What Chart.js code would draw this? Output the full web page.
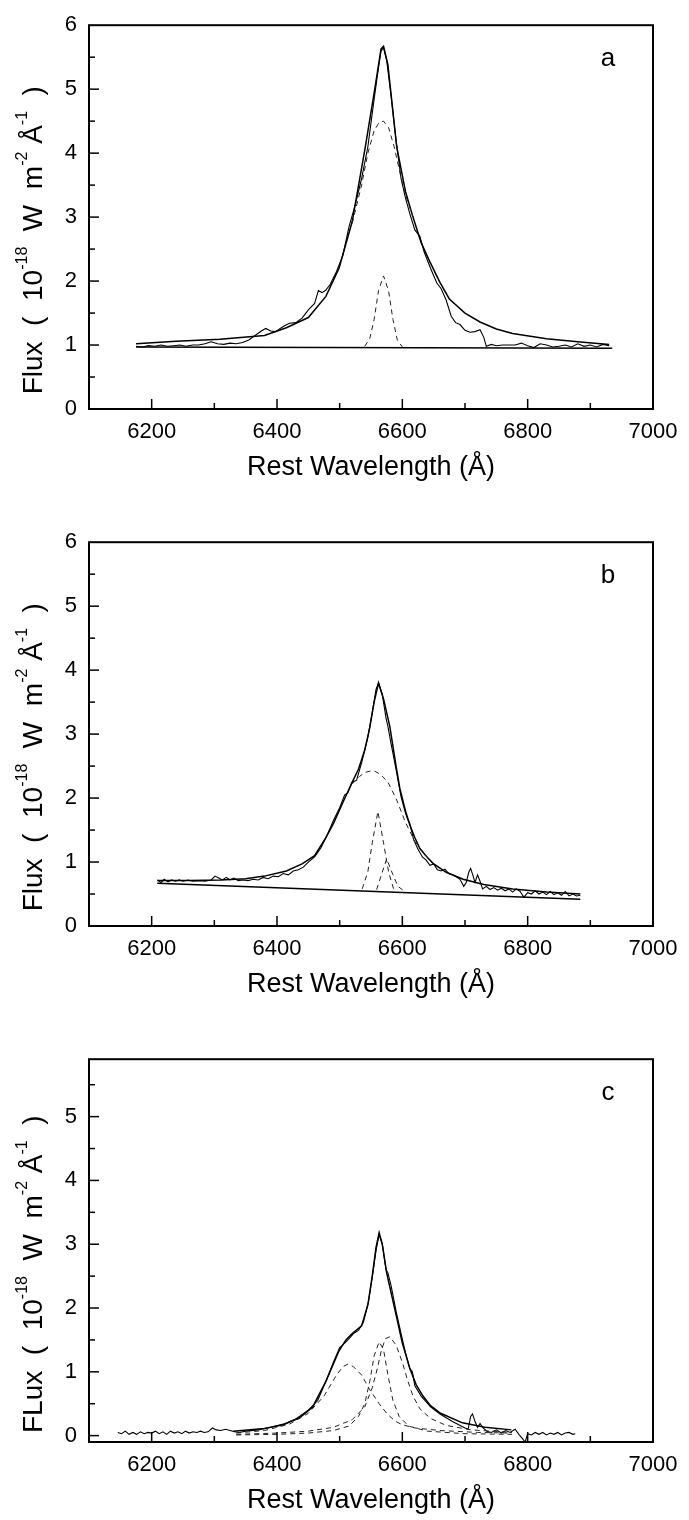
<!DOCTYPE html>
<html>
<head>
<meta charset="utf-8">
<script src="https://cdn.jsdelivr.net/npm/chart.js@4.4.1/dist/chart.umd.min.js"></script>
<style>
  body { margin: 0; background: #fff; width: 689px; height: 1520px; overflow: hidden; position: relative; }
  .panel { position: absolute; left: 0; width: 689px; }
</style>
</head>
<body>
<div class="panel" style="top:0;height:517px"><canvas id="panelA"></canvas></div>
<div class="panel" style="top:517px;height:517px"><canvas id="panelB"></canvas></div>
<div class="panel" style="top:1034px;height:486px"><canvas id="panelC"></canvas></div>
<script>
// --- tick labels ---
const xTickLabels = [6200, 6400, 6600, 6800, 7000];
const yTickLabelsAB = [0, 1, 2, 3, 4, 5, 6];
const yTickLabelsC = [0, 1, 2, 3, 4, 5];

// --- panel a: [wavelength (Å), flux] ---
const aObserved = [
  [6175,0.98],[6185,0.97],[6195,0.99],[6205,0.98],[6215,1.0],[6225,0.98],[6235,0.99],[6245,1.0],
  [6255,0.98],[6265,1.0],[6275,1.0],[6285,1.02],[6295,1.05],[6305,1.02],[6315,1.01],[6325,1.03],
  [6335,1.02],[6345,1.04],[6355,1.08],[6365,1.15],[6375,1.22],[6382,1.26],[6390,1.22],[6398,1.21],
  [6405,1.26],[6412,1.3],[6420,1.34],[6430,1.35],[6440,1.42],[6450,1.55],[6460,1.65],[6466,1.85],
  [6472,1.82],[6478,1.86],[6485,1.95],[6495,2.15],[6505,2.4],[6515,2.85],[6525,3.2],[6535,3.6],
  [6545,4.1],[6553,4.7],[6560,5.2],[6566,5.6],[6570,5.65],[6575,5.45],[6582,4.9],[6590,4.2],
  [6598,3.6],[6605,3.3],[6612,3.05],[6620,2.8],[6628,2.7],[6635,2.45],[6645,2.2],[6655,1.97],
  [6662,1.88],[6670,1.7],[6678,1.45],[6685,1.35],[6692,1.32],[6700,1.23],[6708,1.2],[6716,1.21],
  [6724,1.24],[6730,1.12],[6734,0.98],[6742,1.01],[6750,0.99],[6760,1.0],[6770,1.0],[6780,1.0],
  [6790,1.03],[6800,0.99],[6810,0.96],[6820,1.02],[6830,1.0],[6840,0.97],[6850,0.98],[6860,1.0],
  [6870,0.97],[6880,1.02],[6890,0.98],[6900,1.0],[6910,0.97],[6920,1.01],[6930,0.99]
];
const aFit = [
  [6175,1.02],[6239,1.06],[6309,1.09],[6380,1.15],[6415,1.27],[6450,1.43],[6478,1.76],[6499,2.2],
  [6520,2.93],[6541,4.1],[6556,5.0],[6566,5.63],[6570,5.67],[6577,5.38],[6591,4.1],[6605,3.4],
  [6617,3.0],[6630,2.6],[6644,2.3],[6660,1.98],[6675,1.72],[6700,1.5],[6724,1.36],[6750,1.25],
  [6776,1.18],[6830,1.1],[6880,1.05],[6930,1.01]
];
const aBroad = [
  [6520,2.9],[6535,3.5],[6545,4.0],[6555,4.35],[6563,4.48],[6570,4.5],[6578,4.4],[6587,4.1],
  [6596,3.7],[6605,3.35],[6617,3.0]
];
const aNarrow = [
  [6540,0.98],[6548,1.1],[6555,1.4],[6562,1.85],[6570,2.08],[6578,1.85],[6585,1.4],[6592,1.08],[6600,0.97]
];
const aContinuum = [[6175,0.97],[6935,0.95]];

// --- panel b ---
const bObserved = [
  [6209,0.72],[6215,0.68],[6220,0.73],[6226,0.69],[6232,0.72],[6238,0.7],[6244,0.72],[6250,0.7],
  [6258,0.72],[6266,0.7],[6275,0.71],[6285,0.7],[6295,0.72],[6301,0.78],[6307,0.75],[6313,0.72],
  [6319,0.76],[6325,0.72],[6331,0.75],[6338,0.71],[6346,0.72],[6354,0.71],[6362,0.73],[6370,0.72],
  [6378,0.76],[6386,0.74],[6394,0.78],[6402,0.77],[6410,0.82],[6418,0.8],[6426,0.86],[6434,0.88],
  [6442,0.92],[6450,1.0],[6460,1.08],[6470,1.22],[6480,1.42],[6490,1.65],[6500,1.85],[6508,2.05],
  [6513,2.08],[6520,2.25],[6527,2.28],[6535,2.55],[6545,2.95],[6553,3.4],[6558,3.7],[6562,3.8],
  [6568,3.62],[6574,3.25],[6577,3.12],[6582,2.85],[6590,2.45],[6598,2.02],[6604,1.8],[6608,1.68],
  [6612,1.6],[6618,1.35],[6625,1.2],[6632,1.08],[6638,1.03],[6644,0.95],[6650,0.97],[6656,0.88],
  [6662,0.86],[6668,0.89],[6674,0.82],[6680,0.8],[6686,0.77],[6692,0.73],[6698,0.62],[6702,0.68],
  [6706,0.84],[6709,0.9],[6713,0.78],[6716,0.68],[6720,0.8],[6724,0.7],[6728,0.58],[6734,0.62],
  [6740,0.57],[6746,0.6],[6752,0.56],[6758,0.59],[6764,0.55],[6770,0.58],[6776,0.53],[6782,0.58],
  [6788,0.54],[6794,0.45],[6800,0.52],[6806,0.5],[6812,0.55],[6818,0.5],[6824,0.53],[6830,0.49],
  [6836,0.54],[6842,0.49],[6848,0.52],[6854,0.48],[6860,0.54],[6866,0.47],[6872,0.5],[6878,0.47],[6884,0.48]
];
const bFit = [
  [6209,0.71],[6260,0.71],[6310,0.72],[6350,0.74],[6380,0.78],[6415,0.86],[6440,0.97],[6460,1.1],
  [6478,1.38],[6490,1.6],[6506,1.95],[6520,2.25],[6530,2.45],[6540,2.75],[6548,3.1],[6555,3.5],
  [6562,3.8],[6570,3.55],[6580,3.12],[6590,2.5],[6596,2.15],[6605,1.8],[6612,1.58],[6620,1.38],
  [6628,1.21],[6640,1.07],[6649,0.98],[6670,0.84],[6697,0.73],[6730,0.65],[6776,0.58],[6830,0.53],[6884,0.5]
];
const bBroad = [
  [6520,2.22],[6532,2.34],[6540,2.4],[6548,2.42],[6556,2.42],[6565,2.37],[6577,2.25],
  [6591,1.97],[6605,1.62],[6620,1.32],[6640,1.07]
];
const bNarrow1 = [
  [6536,0.58],[6545,0.85],[6552,1.3],[6561,1.79],[6570,1.3],[6578,0.85],[6586,0.58]
];
const bNarrow2 = [
  [6559,0.57],[6565,0.75],[6575,1.05],[6585,0.8],[6593,0.62],[6601,0.56]
];
const bContinuum = [[6209,0.67],[6884,0.42]];

// --- panel c ---
const cObserved = [
  [6146,0.05],[6152,0.03],[6158,0.07],[6164,0.02],[6170,0.05],[6176,0.02],[6182,0.06],[6188,0.03],
  [6194,0.05],[6200,0.04],[6206,0.07],[6212,0.03],[6218,0.06],[6224,0.02],[6230,0.07],[6236,0.04],
  [6242,0.06],[6248,0.03],[6254,0.07],[6260,0.04],[6266,0.06],[6272,0.05],[6278,0.07],[6284,0.05],
  [6290,0.06],[6297,0.12],[6303,0.09],[6310,0.08],[6318,0.1],[6325,0.08],[6332,0.06],[6340,0.05],
  [6350,0.07],[6370,0.09],[6390,0.13],[6410,0.18],[6430,0.26],[6450,0.4],[6465,0.55],[6478,0.85],
  [6490,1.15],[6500,1.38],[6508,1.45],[6515,1.52],[6522,1.6],[6530,1.65],[6538,1.78],[6546,2.1],
  [6553,2.55],[6558,2.9],[6563,3.15],[6568,3.0],[6574,2.6],[6577,2.55],[6582,2.35],[6590,1.95],
  [6598,1.6],[6605,1.3],[6612,1.05],[6616,1.0],[6620,0.78],[6630,0.62],[6645,0.45],[6660,0.34],
  [6680,0.22],[6700,0.12],[6705,0.1],[6709,0.3],[6712,0.34],[6716,0.22],[6720,0.13],[6724,0.19],
  [6728,0.13],[6735,0.07],[6742,0.05],[6750,0.09],[6758,0.04],[6765,0.08],[6772,0.05],[6780,0.1],
  [6786,0.02],[6792,-0.05],[6796,-0.1],[6800,0.03],[6806,0.01],[6812,0.05],[6818,0.02],[6824,0.05],
  [6830,0.01],[6836,0.04],[6842,0.02],[6848,0.05],[6854,0.01],[6860,0.04],[6866,0.05],[6872,0.02],[6876,0.03]
];
const cFit = [
  [6330,0.07],[6380,0.11],[6410,0.17],[6436,0.28],[6457,0.45],[6478,0.85],[6499,1.33],[6510,1.5],
  [6520,1.6],[6535,1.72],[6545,2.05],[6552,2.5],[6558,2.95],[6563,3.18],[6568,3.0],[6575,2.55],
  [6583,2.2],[6591,1.85],[6600,1.45],[6612,1.05],[6622,0.8],[6633,0.62],[6645,0.47],[6661,0.35],
  [6696,0.2],[6732,0.13],[6774,0.09]
];
const cBlue = [
  [6335,0.04],[6380,0.08],[6420,0.18],[6450,0.35],[6475,0.62],[6495,0.95],[6505,1.08],[6513,1.12],
  [6522,1.08],[6535,0.95],[6548,0.72],[6563,0.5],[6575,0.35],[6588,0.23],[6600,0.17],[6620,0.12],
  [6660,0.08],[6720,0.05],[6775,0.04]
];
const cNarrow = [
  [6335,0.01],[6400,0.02],[6450,0.04],[6490,0.08],[6515,0.15],[6530,0.3],[6540,0.5],[6548,0.85],
  [6555,1.25],[6563,1.47],[6570,1.35],[6577,0.95],[6585,0.55],[6595,0.3],[6610,0.15],[6640,0.07],
  [6700,0.03],[6775,0.02]
];
const cRed = [
  [6335,0.02],[6400,0.04],[6450,0.07],[6490,0.13],[6520,0.25],[6540,0.45],[6552,0.75],[6560,1.05],
  [6567,1.35],[6573,1.52],[6580,1.55],[6590,1.42],[6600,1.15],[6608,0.88],[6617,0.62],[6628,0.42],
  [6645,0.27],[6670,0.16],[6710,0.09],[6775,0.05]
];

const FONT = 'Arial, "Liberation Sans", sans-serif';

function pts(arr) { return arr.map(p => ({ x: p[0], y: p[1] })); }
function solid(arr, w) {
  return { data: pts(arr), borderColor: '#000', borderWidth: w || 1.1, pointRadius: 0, showLine: true, tension: 0 };
}
function dashed(arr) {
  return { data: pts(arr), borderColor: '#222', borderWidth: 1, borderDash: [5, 4], pointRadius: 0, showLine: true, tension: 0 };
}

// frame, inward ticks and rich text drawn on top of the chart
const decorPlugin = {
  id: 'decor',
  afterDraw(chart, args, o) {
    const { ctx, chartArea: a, scales } = chart;
    ctx.save();
    ctx.strokeStyle = '#000';
    ctx.lineWidth = 2;
    ctx.strokeRect(a.left, a.top, a.right - a.left, a.bottom - a.top);

    // x ticks every 100 Å, longer where labelled
    ctx.lineWidth = 1.5;
    for (let v = 6200; v < 7000; v += 100) {
      const px = scales.x.getPixelForValue(v);
      const len = xTickLabels.includes(v) ? 10 : 6;
      ctx.beginPath(); ctx.moveTo(px, a.bottom); ctx.lineTo(px, a.bottom - len); ctx.stroke();
    }
    // y ticks every 0.5
    for (let v = Math.ceil(scales.y.min * 2) / 2; v < scales.y.max; v += 0.5) {
      const py = scales.y.getPixelForValue(v);
      if (Math.abs(py - a.top) < 2 || Math.abs(py - a.bottom) < 2) continue;
      const len = Number.isInteger(v) ? 10 : 6;
      ctx.beginPath(); ctx.moveTo(a.left, py); ctx.lineTo(a.left + len, py); ctx.stroke();
    }

    ctx.fillStyle = '#000';
    // panel letter
    ctx.font = '26px ' + FONT;
    ctx.textAlign = 'center'; ctx.textBaseline = 'middle';
    ctx.fillText(o.letter, a.right - 45, a.top + 34);

    // x title
    ctx.font = '27px ' + FONT;
    ctx.fillText('Rest Wavelength (Å)', (a.left + a.right) / 2, a.bottom + 59);

    // y title with superscripts, rotated
    const parts = [
      { t: o.yWord + '  (  10' }, { t: '-18', sup: true }, { t: '  W  m' }, { t: '-2', sup: true },
      { t: ' Å' }, { t: '-1', sup: true }, { t: '  )' }
    ];
    const big = '28px ' + FONT, small = '16px ' + FONT;
    let total = 0;
    parts.forEach(p => { ctx.font = p.sup ? small : big; p.w = ctx.measureText(p.t).width; total += p.w; });
    ctx.translate(34, a.top + o.titleCenter);
    ctx.rotate(-Math.PI / 2);
    ctx.textAlign = 'left'; ctx.textBaseline = 'middle';
    let cx = -total / 2;
    parts.forEach(p => {
      ctx.font = p.sup ? small : big;
      ctx.fillText(p.t, cx, p.sup ? -11 : 0);
      cx += p.w;
    });
    ctx.restore();
  }
};

function makePanel(id, cfg) {
  new Chart(document.getElementById(id), {
    type: 'scatter',
    data: { datasets: cfg.datasets },
    options: {
      responsive: true,
      maintainAspectRatio: false,
      animation: false,
      layout: { padding: { top: cfg.padTop, right: 36, left: 0, bottom: 0 } },
      plugins: { legend: { display: false }, tooltip: { enabled: false }, decor: { letter: cfg.letter, yWord: cfg.yWord, titleCenter: cfg.titleCenter } },
      scales: {
        x: {
          type: 'linear', min: 6100, max: 7000,
          afterBuildTicks: s => { s.ticks = xTickLabels.map(v => ({ value: v })); },
          afterFit: s => { s.height = cfg.xHeight; },
          grid: { display: false, drawTicks: false },
          border: { display: false },
          ticks: { color: '#000', font: { size: 22, family: FONT }, padding: 10, maxRotation: 0, autoSkip: false, callback: v => String(v) }
        },
        y: {
          type: 'linear', min: cfg.yMin, max: cfg.yMax,
          afterBuildTicks: s => { s.ticks = cfg.yTicks.map(v => ({ value: v })); },
          afterFit: s => { s.width = 89; },
          grid: { display: false, drawTicks: false },
          border: { display: false },
          ticks: { color: '#000', font: { size: 22, family: FONT }, padding: 12, autoSkip: false, callback: v => String(v) }
        }
      }
    },
    plugins: [decorPlugin]
  });
}

makePanel('panelA', {
  letter: 'a', yWord: 'Flux', titleCenter: 215, padTop: 17, xHeight: 108,
  yMin: 0, yMax: 6, yTicks: yTickLabelsAB,
  datasets: [dashed(aBroad), dashed(aNarrow), solid(aContinuum, 1.5), solid(aObserved, 1.1), solid(aFit, 1.5)]
});
makePanel('panelB', {
  letter: 'b', yWord: 'Flux', titleCenter: 215, padTop: 17, xHeight: 108,
  yMin: 0, yMax: 6, yTicks: yTickLabelsAB,
  datasets: [dashed(bBroad), dashed(bNarrow1), dashed(bNarrow2), solid(bContinuum, 1.5), solid(bObserved, 1.1), solid(bFit, 1.5)]
});
makePanel('panelC', {
  letter: 'c', yWord: 'FLux', titleCenter: 215, padTop: 17, xHeight: 78,
  yMin: -0.1, yMax: 5.9, yTicks: yTickLabelsC,
  datasets: [dashed(cBlue), dashed(cNarrow), dashed(cRed), solid(cObserved, 1.1), solid(cFit, 1.5)]
});
</script>
</body>
</html>
